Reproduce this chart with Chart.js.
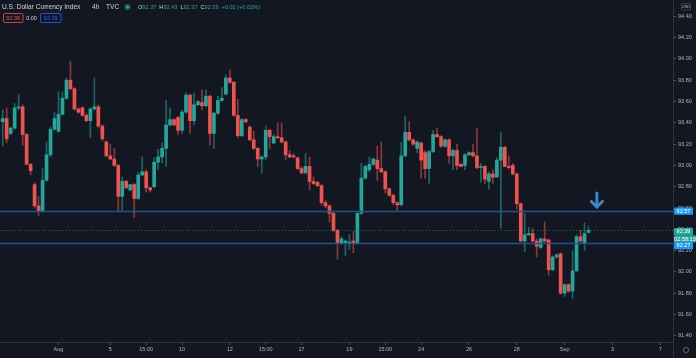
<!DOCTYPE html>
<html>
<head>
<meta charset="utf-8">
<script src="https://cdn.jsdelivr.net/npm/chart.js@4/dist/chart.umd.min.js"></script>
<style>
html,body{margin:0;padding:0;background:#131722;overflow:hidden;}
#wrap{width:696px;height:358px;position:relative;}
canvas{display:block;}
</style>
</head>
<body>
<div id="wrap"><canvas id="c" width="696" height="358" style="width:696px;height:358px"></canvas></div>
<script>
// ---- data (4h candles, U.S. Dollar Currency Index, TVC) ----
const opens = [
93.41,93.44,93.30,93.35,93.54,93.55,93.29,93.01,92.82,92.62,
92.57,92.86,93.10,93.34,93.32,93.48,93.63,93.80,93.72,93.53,
93.54,93.47,93.42,93.53,93.55,93.37,93.22,93.09,93.06,93.00,
92.71,92.85,92.77,92.82,92.69,92.91,92.94,92.79,92.80,93.03,
93.08,93.16,93.38,93.43,93.45,93.33,93.50,93.66,93.42,93.57,
93.59,93.56,93.65,93.30,93.49,93.61,93.67,93.82,93.78,93.47,
93.28,93.43,93.36,93.24,93.16,93.06,93.08,93.33,93.21,93.27,
93.26,93.22,93.10,93.09,93.07,92.97,92.93,92.99,92.85,92.84,
92.81,92.65,92.62,92.55,92.39,92.27,92.27,92.27,92.29,92.27,
92.55,92.88,92.96,93.01,93.05,92.97,92.94,92.78,92.72,92.65,
92.63,93.09,93.31,93.24,93.16,93.21,93.12,92.97,93.13,93.29,
93.27,93.18,93.24,93.09,93.14,93.01,93.00,93.10,93.12,93.09,
92.98,92.99,92.85,92.92,92.89,93.05,93.17,92.99,93.00,92.92,
92.64,92.29,92.35,92.36,92.29,92.23,92.31,92.30,92.02,92.14,
92.17,91.80,91.88,91.82,92.01,92.33,92.27,92.37];
const highs = [
93.52,93.54,93.36,93.58,93.67,93.57,93.30,93.02,92.84,92.71,
92.97,93.22,93.36,93.50,93.69,93.69,93.82,93.98,93.73,93.54,
93.55,93.49,93.54,93.82,93.57,93.38,93.23,93.20,93.16,93.01,
92.89,92.86,92.82,92.83,92.93,93.08,92.96,92.80,93.07,93.15,
93.21,93.61,93.54,93.44,93.46,93.52,93.68,93.67,93.68,93.61,
93.71,93.71,93.66,93.50,93.65,93.73,93.85,93.90,93.79,93.62,
93.44,93.44,93.37,93.32,93.17,93.09,93.37,93.34,93.29,93.40,
93.40,93.23,93.14,93.11,93.08,92.99,93.11,93.08,92.89,92.85,
92.82,92.67,92.63,92.56,92.40,92.33,92.30,92.35,92.38,92.57,
93.02,93.00,93.08,93.07,93.18,93.22,92.95,92.79,92.73,92.66,
93.22,93.46,93.41,93.25,93.23,93.22,93.14,93.14,93.33,93.35,
93.28,93.25,93.25,93.15,93.20,93.02,93.11,93.13,93.20,93.35,
93.02,93.00,92.94,92.96,93.07,93.31,93.18,93.09,93.02,92.93,
92.65,92.55,92.42,92.41,92.31,92.32,92.47,92.31,92.15,92.17,
92.18,91.89,91.89,92.20,92.35,92.39,92.46,92.43];
const lows = [
93.18,93.21,93.29,93.34,93.52,93.19,93.01,92.91,92.60,92.53,
92.56,92.85,93.08,93.33,93.31,93.47,93.62,93.71,93.52,93.49,
93.46,93.41,93.26,93.52,93.35,93.23,93.08,93.05,92.99,92.57,
92.57,92.78,92.76,92.51,92.68,92.90,92.75,92.75,92.79,92.96,
93.02,92.99,93.37,93.37,93.29,93.30,93.49,93.30,93.38,93.56,
93.52,93.55,93.19,93.16,93.48,93.60,93.66,93.77,93.46,93.26,
93.27,93.40,93.23,93.15,92.99,92.93,93.05,93.16,93.20,93.25,
93.21,93.05,93.07,93.07,92.96,92.92,92.92,92.77,92.82,92.80,
92.63,92.60,92.47,92.38,92.12,92.26,92.15,92.21,92.18,92.26,
92.54,92.87,92.94,93.00,92.86,92.93,92.74,92.71,92.63,92.57,
92.62,93.08,93.23,93.19,93.12,92.88,92.88,92.83,93.12,93.26,
93.17,93.17,93.02,92.96,92.96,92.99,92.96,93.09,93.08,92.97,
92.84,92.83,92.775,92.83,92.89,92.41,92.99,92.97,92.91,92.59,
92.28,92.19,92.34,92.28,92.14,92.22,92.28,91.97,92.01,92.13,
91.79,91.77,91.81,91.75,92.00,92.28,92.20,92.37];
const closes = [
93.44,93.25,93.35,93.54,93.55,93.29,93.01,92.95,92.62,92.57,
92.86,93.10,93.34,93.44,93.48,93.63,93.80,93.72,93.53,93.50,
93.47,93.42,93.53,93.55,93.37,93.25,93.09,93.06,93.00,92.71,
92.85,92.79,92.82,92.69,92.91,92.94,92.79,92.77,93.03,93.08,
93.16,93.38,93.43,93.38,93.33,93.50,93.66,93.42,93.57,93.60,
93.56,93.65,93.30,93.49,93.61,93.63,93.82,93.78,93.47,93.28,
93.43,93.41,93.24,93.16,93.06,93.08,93.33,93.27,93.27,93.26,
93.22,93.10,93.08,93.08,92.97,92.93,92.99,92.85,92.83,92.81,
92.65,92.62,92.55,92.39,92.27,92.31,92.29,92.28,92.27,92.55,
92.88,92.99,93.01,93.06,92.97,92.94,92.78,92.72,92.65,92.63,
93.09,93.31,93.24,93.20,93.22,93.05,92.97,93.13,93.29,93.27,
93.18,93.24,93.09,93.14,93.00,92.99,93.10,93.12,93.09,92.98,
92.99,92.87,92.92,92.89,93.05,93.17,92.99,92.98,92.92,92.64,
92.29,92.35,92.36,92.29,92.24,92.31,92.29,92.02,92.14,92.16,
91.80,91.88,91.82,92.01,92.33,92.29,92.36,92.39];

const xTickPos    = [14, 27, 36, 45, 57, 66, 75, 87, 96, 105, 117, 129, 141, 153, 165];
const xTickLabels = ['Aug','5','15:00','10','12','15:00','17','19','15:00','24','26','28','Sep','3','7'];
const yTickValues = [91.40,91.60,91.80,92.00,92.20,92.40,92.60,92.80,93.00,93.20,93.40,93.60,93.80,94.00,94.20,94.40];
const levelLines  = [92.57, 92.27];
const lastPrice   = 92.39;
const countdown   = '02:58:13';
const arrowAt     = {x: 149.1, top: 92.74, tip: 92.61};

// ---- styling ----
const UP = '#26a69a', DOWN = '#ef5350';
const UPW = 'rgba(38,166,154,0.55)', DOWNW = 'rgba(239,83,80,0.55)';
const FONT = "'Liberation Sans', Arial, sans-serif";

const n = opens.length;
const isUp = opens.map((o,i)=> closes[i] >= o);
const wickData = opens.map((o,i)=>({x:i, y:[lows[i], highs[i]]}));
const bodyData = opens.map((o,i)=>({x:i, y:[o, closes[i]]}));

function roundRect(ctx,x,y,w,h,r){
  ctx.beginPath();
  ctx.moveTo(x+r,y);ctx.lineTo(x+w-r,y);ctx.quadraticCurveTo(x+w,y,x+w,y+r);
  ctx.lineTo(x+w,y+h-r);ctx.quadraticCurveTo(x+w,y+h,x+w-r,y+h);
  ctx.lineTo(x+r,y+h);ctx.quadraticCurveTo(x,y+h,x,y+h-r);
  ctx.lineTo(x,y+r);ctx.quadraticCurveTo(x,y,x+r,y);ctx.closePath();
}

const overlay = {
  id:'overlay',
  beforeDraw(chart){
    const ctx = chart.ctx;
    ctx.save();ctx.fillStyle='#131722';ctx.fillRect(0,0,chart.width,chart.height);ctx.restore();
  },
  afterDatasetsDraw(chart){
    const ctx = chart.ctx, xs = chart.scales.x, ys = chart.scales.y, a = chart.chartArea;
    ctx.save();
    // level lines
    ctx.strokeStyle = '#1d5392'; ctx.lineWidth = 1.6;
    levelLines.forEach(v=>{
      const y = Math.round(ys.getPixelForValue(v))+0.5;
      ctx.beginPath();ctx.moveTo(a.left,y);ctx.lineTo(a.right,y);ctx.stroke();
    });
    // last price dotted line
    ctx.strokeStyle='rgba(38,166,154,0.55)';ctx.lineWidth=1;ctx.setLineDash([1,2]);
    const yl = Math.round(ys.getPixelForValue(lastPrice))+0.5;
    ctx.beginPath();ctx.moveTo(a.left,yl);ctx.lineTo(a.right,yl);ctx.stroke();
    ctx.setLineDash([]);
    // arrow
    const ax = xs.getPixelForValue(arrowAt.x), at = ys.getPixelForValue(arrowAt.top), ap = ys.getPixelForValue(arrowAt.tip);
    ctx.strokeStyle='#3d85c6';ctx.lineWidth=3;ctx.lineCap='round';ctx.lineJoin='round';
    ctx.beginPath();ctx.moveTo(ax,at);ctx.lineTo(ax,ap);ctx.stroke();
    ctx.beginPath();ctx.moveTo(ax-5.5,ap-5.5);ctx.lineTo(ax,ap);ctx.lineTo(ax+5.5,ap-5.5);ctx.stroke();
    ctx.restore();
  },
  afterDraw(chart){
    const ctx = chart.ctx, ys = chart.scales.y, a = chart.chartArea;
    ctx.save();
    // axis separators
    ctx.strokeStyle='#2f333e';ctx.lineWidth=1;
    ctx.beginPath();ctx.moveTo(a.right+0.5,0);ctx.lineTo(a.right+0.5,chart.height);ctx.stroke();
    ctx.beginPath();ctx.moveTo(0,a.bottom+0.5);ctx.lineTo(a.right,a.bottom+0.5);ctx.stroke();

    // price boxes on the right axis
    ctx.textBaseline='middle';ctx.textAlign='center';ctx.font='5.5px '+FONT;
    function box(yc, col, txt, w){
      ctx.fillStyle=col;roundRect(ctx,a.right+1,yc-3.6,w,7.2,1);ctx.fill();
      ctx.fillStyle='#ffffff';ctx.fillText(txt,a.right+1+w/2,yc+0.3);
    }
    const y57 = ys.getPixelForValue(levelLines[0]);
    const y39 = ys.getPixelForValue(lastPrice);
    const y27 = ys.getPixelForValue(levelLines[1]);
    box(y57, '#2196f3', levelLines[0].toFixed(2), 19);
    box(y39+1.2, '#26a69a', lastPrice.toFixed(2), 19);
    box(y39+8.4, '#26a69a', countdown, 22);
    box(Math.max(y27, y39+15.2), '#2196f3', levelLines[1].toFixed(2), 19);

    // USD box
    ctx.strokeStyle='#434651';ctx.lineWidth=0.8;roundRect(ctx,681.5,3.5,9,6.5,1);ctx.stroke();
    ctx.fillStyle='#b2b5be';ctx.font='4px '+FONT;ctx.fillText('USD',686,7);

    // gear icon
    ctx.strokeStyle='#787b86';ctx.lineWidth=0.8;
    ctx.beginPath();ctx.arc(686,350,2.6,0,Math.PI*2);ctx.stroke();

    // header
    ctx.textAlign='left';ctx.textBaseline='middle';
    ctx.fillStyle='#d1d4dc';ctx.font='6.6px '+FONT;
    ctx.fillText('U.S. Dollar Currency Index',2,7.5);
    ctx.fillText('4h',92,7.5);
    ctx.fillText('TVC',106,7.5);
    ctx.fillStyle='rgba(38,166,154,0.35)';ctx.beginPath();ctx.arc(127.5,7,3.2,0,Math.PI*2);ctx.fill();
    ctx.fillStyle='#26a69a';ctx.beginPath();ctx.arc(127.5,7,1.8,0,Math.PI*2);ctx.fill();
    ctx.font='5.6px '+FONT;
    const last = n-1;
    const parts = [
      ['O', opens[last]], ['H', highs[last]], ['L', lows[last]], ['C', closes[last]]
    ];
    let px = 138;
    parts.forEach(([k,v])=>{
      ctx.fillStyle='#d1d4dc';ctx.fillText(k,px,7.5);px+=ctx.measureText(k).width;
      ctx.fillStyle='#26a69a';const t=v.toFixed(2);ctx.fillText(t,px,7.5);px+=ctx.measureText(t).width+3;
    });
    ctx.fillStyle='#26a69a';ctx.fillText('+0.02 (+0.02%)',px,7.5);

    // second row
    ctx.font='5.5px '+FONT;ctx.textAlign='center';
    ctx.strokeStyle='#ef5350';ctx.lineWidth=0.8;roundRect(ctx,3.5,13.5,19.5,9,1.2);ctx.stroke();
    ctx.fillStyle='#ef5350';ctx.fillText(lastPrice.toFixed(2),13.25,18.2);
    ctx.fillStyle='#d1d4dc';ctx.fillText('0.00',31.5,18.2);
    ctx.strokeStyle='#2962ff';roundRect(ctx,40.5,13.5,20.5,9,1.2);ctx.stroke();
    ctx.fillStyle='#2962ff';ctx.fillText(lastPrice.toFixed(2),50.75,18.2);
    ctx.restore();
  }
};

new Chart(document.getElementById('c'), {
  type:'bar',
  data:{
    datasets:[
      { label:'wick', data:wickData, backgroundColor:isUp.map(u=>u?UPW:DOWNW), barThickness:1, grouped:false, order:2, borderWidth:0, minBarLength:1 },
      { label:'body', data:bodyData, backgroundColor:isUp.map(u=>u?UP:DOWN), barThickness:3, grouped:false, order:1, borderWidth:0, minBarLength:1 }
    ]
  },
  options:{
    responsive:false, animation:false, devicePixelRatio:1,
    layout:{padding:0},
    plugins:{legend:{display:false}, tooltip:{enabled:false}},
    scales:{
      x:{
        type:'linear', min:-0.68, max:168.2, offset:false,
        grid:{display:true, drawOnChartArea:false, drawTicks:true, tickLength:3, color:'#50535e', offset:false},
        border:{display:false},
        ticks:{color:'#b2b5be', font:{size:5.5, family:FONT}, padding:1, maxRotation:0, autoSkip:false,
          callback:(v)=>{const k=xTickPos.indexOf(v);return k>=0?xTickLabels[k]:'';}},
        afterBuildTicks:(s)=>{s.ticks = xTickPos.map(v=>({value:v}));},
        afterFit:(s)=>{s.height=16;s.paddingLeft=0;s.paddingRight=0;}
      },
      y:{
        type:'linear', position:'right', min:91.342, max:94.553, beginAtZero:false,
        grid:{display:true, drawOnChartArea:false, drawTicks:true, tickLength:3, color:'#50535e'},
        border:{display:false},
        ticks:{color:'#b2b5be', font:{size:5.5, family:FONT}, padding:2, callback:(v)=>Number(v).toFixed(2)},
        afterBuildTicks:(s)=>{s.ticks = yTickValues.map(v=>({value:v}));},
        afterFit:(s)=>{s.width=23;s.paddingTop=0;s.paddingBottom=0;}
      }
    }
  },
  plugins:[overlay]
});
</script>
</body>
</html>
